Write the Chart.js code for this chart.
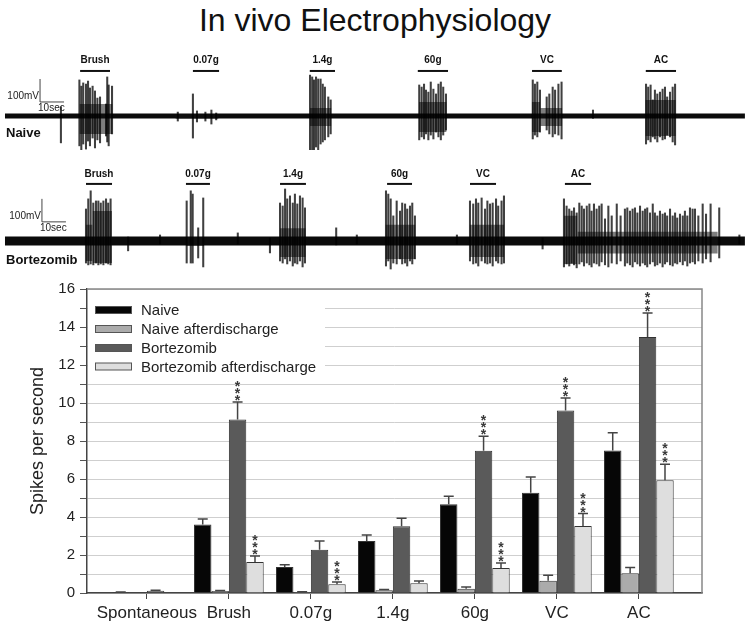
<!DOCTYPE html>
<html>
<head>
<meta charset="utf-8">
<script src="https://cdn.jsdelivr.net/npm/chart.js@4.4.1/dist/chart.umd.min.js"></script>
<style>
  body { margin: 0; background: #fff; }
  #wrap { position: relative; width: 750px; height: 629px; overflow: hidden; font-family: "Liberation Sans", Arial, sans-serif; }
  #title { position: absolute; left: 0; top: 2px; width: 750px; text-align: center; font-size: 32px; line-height: 37px; color: #111; }
  canvas { position: absolute; left: 0; }
</style>
</head>
<body>
<div id="wrap">
  <div id="title">In vivo Electrophysiology</div>
  <canvas id="naiveTrace" width="750" height="105" style="top:45px"></canvas>
  <canvas id="bortTrace" width="750" height="115" style="top:160px"></canvas>
  <canvas id="bars" width="750" height="359" style="top:270px"></canvas>
</div>
<script>
/* Traces: time in sec, amplitude in mV */
const stimNames = ["Brush", "0.07g", "1.4g", "60g", "VC", "AC"];

const naiveStimStart = [31.3, 78.3, 127, 172, 219.6, 267];
const naiveStimEnd = [43.75, 89.2, 137.5, 184.6, 232, 279.6];
const naiveSpikeT = [23.3, 31, 31.8, 32.6, 33.75, 34.6, 35.4, 36.5, 37.5, 38.5, 39.6, 42.1, 42.6, 43.2, 44.6,
  72, 78.3, 80, 83.5, 86, 88,
  127.1, 128, 128.75, 129.6, 130.5, 131.5, 132.4, 133.3, 134.7, 135.7,
  172.6, 173.6, 174.6, 175.4, 176.4, 177.4, 178.5, 179.6, 180.6, 181.6, 182.6, 183.75,
  219.9, 220.8, 221.8, 222.9, 225.7, 226.8, 228.2, 229.2, 230.6, 231.9, 245,
  267.1, 268, 269, 269.9, 270.8, 271.8, 272.9, 274, 275, 275.9, 277.1, 278.2, 279.2];
const naiveSpikeUp = [40, 157, 130, 144, 139, 152, 122, 130, 109, 78, 83, 52, 170, 135, 130,
  17, 96, 22, 17, 26, 13,
  178, 170, 157, 170, 161, 161, 139, 126, 83, 70,
  135, 126, 139, 113, 104, 148, 117, 96, 139, 148, 126, 96,
  157, 139, 148, 113, 83, 96, 126, 113, 139, 148, 26,
  139, 126, 135, 70, 113, 96, 104, 117, 126, 83, 104, 126, 139];
const naiveSpikeDown = [117, 130, 148, 122, 144, 109, 130, 96, 139, 104, 117, 87, 113, 130, 78,
  22, 96, 26, 22, 35, 17,
  191, 148, 178, 135, 157, 122, 113, 104, 91, 78,
  104, 91, 100, 78, 104, 83, 100, 70, 91, 104, 83, 61,
  100, 83, 91, 70, 61, 78, 91, 78, 83, 100, 10,
  122, 104, 113, 91, 100, 113, 91, 104, 100, 83, 91, 113, 126];
const naiveCoreStart = [31, 71, 127, 172.5, 219.5, 223, 266.8];
const naiveCoreEnd = [44.8, 89, 136, 184, 223, 232.2, 279.5];
const naiveCoreUp = [52, 9, 35, 61, 61, 35, 70];
const naiveCoreDown = [78, 12, 43, 70, 70, 43, 87];

const bortStimStart = [33.75, 75.4, 114.6, 159.2, 193.75, 233.3];
const bortStimEnd = [44.6, 85.4, 125.4, 169.6, 204.6, 244.2];
const bortSpikeT = [51.3, 64.6, 97, 110.4, 138, 146.6, 188.3, 224, 306,
  33.75, 34.7, 35.7, 36.8, 37.9, 38.9, 39.9, 41, 42.1, 43, 44,
  75.7, 77.4, 78.2, 80.5, 82.6,
  114.6, 115.7, 116.7, 117.6, 118.75, 119.9, 120.8, 121.8, 122.9, 124, 125,
  158.75, 159.7, 160.7, 161.8, 163.2, 164.6, 165.5, 166.7, 167.6, 168.75, 169.7, 170.8,
  193.75, 195.1, 196.25, 197.2, 198.6, 200, 201, 202.1, 203.2, 204.6, 205.5, 206.9, 207.9,
  232.9, 234, 235.1, 236.1, 237.1, 238.2, 239.3, 240.3, 241.25, 242.4, 243.5, 244.4, 245.4, 246.5, 247.6, 248.6, 250, 251.4, 252.8, 254.9,
  256.5, 258.3, 259.3, 260.4, 261.5, 262.5, 263.5, 264.6, 265.7, 266.7, 267.6, 268.75, 269.9, 270.8, 271.8, 272.9, 274, 275, 275.9, 277.1,
  278.2, 279.2, 280.1, 281.25, 282.4, 283.3, 284.3, 285.4, 286.5, 287.5, 288.9, 290.7, 292.1, 294, 297.6];
const bortSpikeUp = [17, 26, 35, 13, 57, 26, 26, 13, 26,
  139, 183, 218, 165, 174, 174, 165, 174, 183, 165, 183,
  174, 218, 204, 57, 187,
  165, 152, 226, 183, 196, 165, 204, 161, 196, 187, 144,
  218, 204, 183, 109, 174, 130, 165, 161, 139, 152, 165, 109,
  174, 161, 183, 165, 187, 139, 174, 161, 165, 183, 152, 174, 196,
  183, 152, 139, 130, 144, 122, 165, 152, 139, 152, 161, 130, 161, 139, 152, 161, 96, 152, 109, 161,
  109, 139, 144, 130, 139, 144, 122, 152, 130, 139, 144, 122, 161, 122, 109, 130, 117, 122, 109, 139,
  109, 122, 100, 117, 109, 130, 109, 144, 139, 139, 109, 161, 117, 161, 144];
const bortSpikeDown = [43, 13, 13, 52, 17, 13, 13, 35, 13,
  96, 104, 100, 104, 96, 104, 100, 104, 96, 100, 104,
  96, 96, 96, 74, 113,
  87, 96, 78, 100, 87, 109, 96, 100, 87, 113, 96,
  109, 87, 122, 96, 100, 78, 100, 96, 109, 87, 100, 78,
  87, 100, 96, 109, 87, 96, 100, 96, 109, 87, 96, 100, 96,
  113, 100, 109, 96, 104, 117, 100, 91, 109, 96, 104, 113, 96, 100, 109, 91, 104, 113, 96, 100,
  87, 109, 96, 104, 113, 91, 100, 109, 96, 104, 113, 100, 91, 109, 104, 96, 113, 100, 91, 104,
  109, 96, 100, 91, 104, 87, 109, 96, 91, 100, 87, 96, 78, 91, 74];
const bortCoreStart = [33.6, 36.5, 75.5, 114.5, 158.5, 193.6, 232.8, 238.5];
const bortCoreEnd = [36.5, 44.6, 83, 125.3, 171, 208, 238.5, 297];
const bortCoreUp = [70, 130, 17, 55, 70, 70, 110, 40];
const bortCoreDown = [87, 96, 22, 70, 78, 70, 100, 55];

/* Bar chart: spikes per second, mean and SEM */
const categories = ["Spontaneous", "Brush", "0.07g", "1.4g", "60g", "VC", "AC"];
const naiveMean = [0.04, 3.6, 1.37, 2.74, 4.67, 5.28, 7.5];
const naiveErr = [0.01, 0.3, 0.12, 0.31, 0.42, 0.82, 0.94];
const naiveAdMean = [0, 0.1, 0.05, 0.15, 0.23, 0.65, 1.04];
const naiveAdErr = [0, 0.03, 0.02, 0.03, 0.09, 0.28, 0.3];
const bortMean = [0.12, 9.13, 2.28, 3.51, 7.49, 9.6, 13.47];
const bortErr = [0.03, 0.92, 0.46, 0.42, 0.76, 0.66, 1.27];
const bortAdMean = [0, 1.63, 0.46, 0.51, 1.32, 3.53, 5.93];
const bortAdErr = [0, 0.32, 0.12, 0.12, 0.26, 0.65, 0.84];
const bortSig = [false, true, false, false, true, true, true];
const bortAdSig = [false, true, true, false, true, true, true];

const FONT = '"Liberation Sans", Arial, sans-serif';
Chart.defaults.font.family = FONT;

const TRACE_END = 308.3;

const traceLabels = {
  id: "traceLabels",
  afterDraw(chart, args, opts) {
    const { ctx, scales: { x, y } } = chart;
    ctx.save();
    ctx.fillStyle = "#111";
    ctx.strokeStyle = "#111";
    ctx.textAlign = "center";
    ctx.textBaseline = "middle";
    ctx.font = "bold 10px " + FONT;
    stimNames.forEach((name, i) => {
      const x0 = x.getPixelForValue(opts.stimStart[i]);
      const x1 = x.getPixelForValue(opts.stimEnd[i]);
      const yb = y.getPixelForValue(opts.barLevel);
      ctx.lineWidth = 2;
      ctx.beginPath();
      ctx.moveTo(x0, yb);
      ctx.lineTo(x1, yb);
      ctx.stroke();
      ctx.fillText(name, (x0 + x1) / 2, y.getPixelForValue(opts.labelLevel));
    });

    // 100 mV / 10 sec scale bar
    const sx = x.getPixelForValue(opts.scaleT);
    const sx1 = x.getPixelForValue(opts.scaleT + 10);
    const sy0 = y.getPixelForValue(opts.scaleMv);
    const sy1 = y.getPixelForValue(opts.scaleMv + 100);
    ctx.strokeStyle = "#444";
    ctx.lineWidth = 1;
    ctx.beginPath();
    ctx.moveTo(sx, sy1);
    ctx.lineTo(sx, sy0);
    ctx.lineTo(sx1, sy0);
    ctx.stroke();
    ctx.fillStyle = "#222";
    ctx.font = "10px " + FONT;
    ctx.textAlign = "right";
    ctx.textBaseline = "alphabetic";
    ctx.fillText("100mV", sx - 1, sy0 - 3);
    ctx.textAlign = "left";
    ctx.textBaseline = "middle";
    ctx.fillText("10sec", sx - 2, sy0 + 6);

    ctx.fillStyle = "#111";
    ctx.font = "bold 13px " + FONT;
    ctx.fillText(opts.name, 6, y.getPixelForValue(opts.nameLevel));
    ctx.restore();
  },
};

function traceChart(id, t) {
  const spikes = t.spikeT.map((v, i) => ({ x: v, y: [-t.spikeDown[i], t.spikeUp[i]] }));
  const datasets = [
    { type: "bar", data: spikes, backgroundColor: "rgba(0,0,0,0.75)", barThickness: 1.4, grouped: false },
  ];
  t.coreStart.forEach((s, i) => {
    datasets.push({
      type: "line",
      data: [{ x: s, y: t.coreUp[i] }, { x: t.coreEnd[i], y: t.coreUp[i] }],
      fill: "+1", backgroundColor: "rgba(20,20,20,0.55)", borderColor: "rgba(0,0,0,0)", pointRadius: 0,
    });
    datasets.push({
      type: "line",
      data: [{ x: s, y: -t.coreDown[i] }, { x: t.coreEnd[i], y: -t.coreDown[i] }],
      fill: false, borderColor: "rgba(0,0,0,0)", pointRadius: 0,
    });
  });
  datasets.push({
    type: "line",
    data: [{ x: 0, y: 0 }, { x: TRACE_END, y: 0 }],
    borderColor: "#0b0b0b", borderWidth: t.noise, pointRadius: 0, fill: false,
  });

  return new Chart(document.getElementById(id), {
    type: "bar",
    data: { datasets },
    options: {
      responsive: false,
      animation: false,
      layout: { padding: 0 },
      plugins: {
        legend: { display: false },
        tooltip: { enabled: false },
        traceLabels: t.labels,
      },
      scales: {
        x: { type: "linear", offset: false, min: -2.08, max: 310.42, display: false },
        y: { min: t.yMin, max: t.yMax, display: false },
      },
    },
    plugins: [traceLabels],
  });
}

traceChart("naiveTrace", {
  spikeT: naiveSpikeT, spikeUp: naiveSpikeUp, spikeDown: naiveSpikeDown,
  coreStart: naiveCoreStart, coreEnd: naiveCoreEnd, coreUp: naiveCoreUp, coreDown: naiveCoreDown,
  noise: 5, yMin: -148, yMax: 309,
  labels: { name: "Naive", nameLevel: -76, stimStart: naiveStimStart, stimEnd: naiveStimEnd,
    barLevel: 196, labelLevel: 243, scaleT: 14.6, scaleMv: 61 },
});

traceChart("bortTrace", {
  spikeT: bortSpikeT, spikeUp: bortSpikeUp, spikeDown: bortSpikeDown,
  coreStart: bortCoreStart, coreEnd: bortCoreEnd, coreUp: bortCoreUp, coreDown: bortCoreDown,
  noise: 9, yMin: -148, yMax: 352,
  labels: { name: "Bortezomib", nameLevel: -83, stimStart: bortStimStart, stimEnd: bortStimEnd,
    barLevel: 248, labelLevel: 291, scaleT: 15.4, scaleMv: 83 },
});

/* Bar chart */
const toXY = (arr) => arr.map((v, i) => ({ x: i, y: v }));

const barFrame = {
  id: "barFrame",
  beforeDatasetsDraw(chart) {
    const { ctx, chartArea: a } = chart;
    ctx.save();
    // legend box inside the plot
    ctx.fillStyle = "#fff";
    ctx.fillRect(a.left + 1, a.top + 1, 237, 88);
    const rows = [21, 40, 59, 77.5];
    ctx.font = "15px " + FONT;
    ctx.textBaseline = "middle";
    ctx.textAlign = "left";
    chart.data.datasets.forEach((ds, i) => {
      const yy = a.top + rows[i];
      ctx.fillStyle = ds.backgroundColor;
      ctx.fillRect(a.left + 8.5, yy - 3.5, 36, 7);
      ctx.strokeStyle = "#555";
      ctx.lineWidth = 1;
      ctx.strokeRect(a.left + 8.5, yy - 3.5, 36, 7);
      ctx.fillStyle = "#222";
      ctx.fillText(ds.label, a.left + 54, yy + 1);
    });
    ctx.restore();
  },
  afterDatasetsDraw(chart) {
    const { ctx, chartArea: a, scales: { y } } = chart;
    ctx.save();
    // error bars and significance stars
    chart.data.datasets.forEach((ds, d) => {
      const meta = chart.getDatasetMeta(d);
      meta.data.forEach((bar, i) => {
        const e = ds.err[i];
        if (!e) return;
        const y0 = y.getPixelForValue(ds.data[i].y);
        const y1 = y.getPixelForValue(ds.data[i].y + e);
        ctx.strokeStyle = "#444";
        ctx.lineWidth = 1.5;
        ctx.beginPath();
        ctx.moveTo(bar.x, y0);
        ctx.lineTo(bar.x, y1);
        ctx.moveTo(bar.x - 5, y1);
        ctx.lineTo(bar.x + 5, y1);
        ctx.stroke();
        if (ds.sig && ds.sig[i]) {
          ctx.fillStyle = "#3a3a3a";
          ctx.font = "bold 14px " + FONT;
          ctx.textAlign = "center";
          ctx.textBaseline = "alphabetic";
          [5, 12, 19].forEach((off) => ctx.fillText("*", bar.x, y1 - off + 8));
        }
      });
    });
    // top and right frame lines
    ctx.strokeStyle = "#888";
    ctx.lineWidth = 1.5;
    ctx.beginPath();
    ctx.moveTo(a.left, a.top);
    ctx.lineTo(a.right, a.top);
    ctx.lineTo(a.right, a.bottom);
    ctx.stroke();
    ctx.restore();
  },
};

new Chart(document.getElementById("bars"), {
  type: "bar",
  data: {
    datasets: [
      { label: "Naive", data: toXY(naiveMean), err: naiveErr, backgroundColor: "#060606" },
      { label: "Naive afterdischarge", data: toXY(naiveAdMean), err: naiveAdErr, backgroundColor: "#ababab" },
      { label: "Bortezomib", data: toXY(bortMean), err: bortErr, sig: bortSig, backgroundColor: "#5a5a5a" },
      { label: "Bortezomib afterdischarge", data: toXY(bortAdMean), err: bortAdErr, sig: bortAdSig, backgroundColor: "#dedede" },
    ],
  },
  options: {
    responsive: false,
    animation: false,
    layout: { padding: { top: 19, right: 48, left: 0, bottom: 0 } },
    datasets: { bar: { categoryPercentage: 0.85, barPercentage: 1, borderColor: "#333", borderWidth: 1 } },
    plugins: { legend: { display: false }, tooltip: { enabled: false } },
    scales: {
      x: {
        type: "linear",
        offset: false,
        min: -0.73,
        max: 6.77,
        afterBuildTicks: (s) => { s.ticks = categories.map((c, i) => ({ value: i })); },
        afterFit: (s) => { s.height = 36; },
        ticks: { callback: (v) => categories[v], font: { size: 17 }, color: "#222", padding: 4, maxRotation: 0, autoSkip: false },
        grid: { offset: false, drawOnChartArea: false, tickLength: 6, tickColor: "#444" },
        border: { color: "#444", width: 1.5 },
      },
      y: {
        min: 0,
        max: 16,
        afterFit: (s) => { s.width = 87; },
        ticks: { stepSize: 1, autoSkip: false, callback: (v) => (v % 2 === 0 ? v : ""), font: { size: 15 }, color: "#222", padding: 5 },
        grid: { color: "#cfcfcf", tickLength: 7, tickColor: "#555" },
        border: { color: "#444", width: 1.5 },
        title: { display: true, text: "Spikes per second", font: { size: 18 }, color: "#222", padding: { top: 27, bottom: 0 } },
      },
    },
  },
  plugins: [barFrame],
});
</script>
</body>
</html>
